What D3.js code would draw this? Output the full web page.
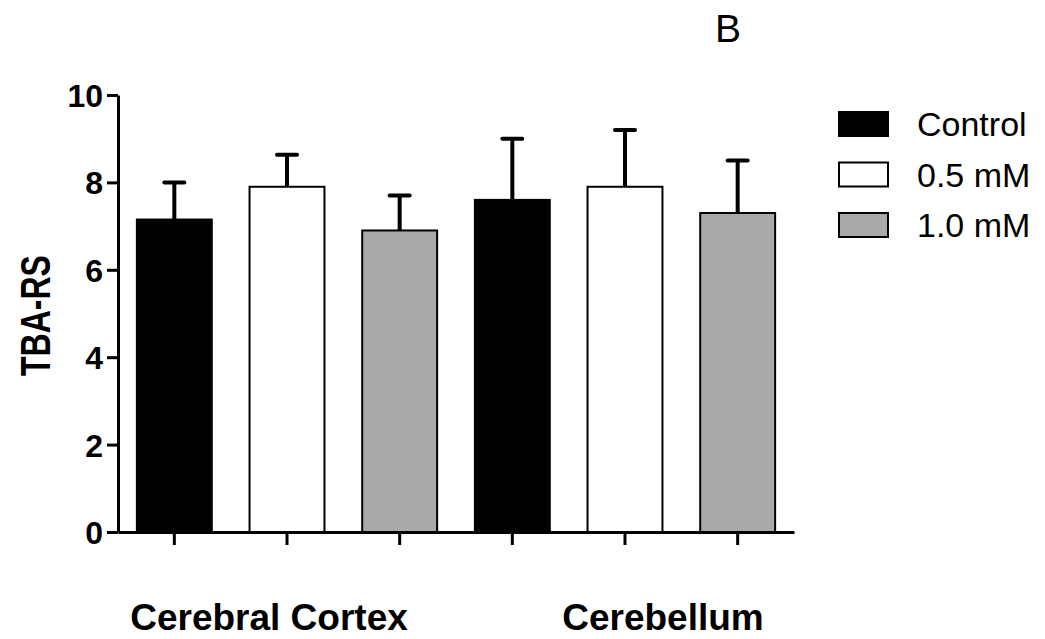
<!DOCTYPE html>
<html>
<head>
<meta charset="utf-8">
<script src="https://cdn.jsdelivr.net/npm/d3@7"></script>
<style>
  body { margin: 0; background: #fff; }
  svg { display: block; font-family: "Liberation Sans", Arial, sans-serif; }
</style>
</head>
<body>
<div class="chart"></div>
<script>
// data
const regions = ['Cerebral Cortex', 'Cerebellum'];
const groups = ['Control', '0.5 mM', '1.0 mM'];
const means = [
  [7.15, 7.9, 6.9],   // cerebral cortex
  [7.6, 7.9, 7.3]     // cerebellum
];
const sems = [
  [0.85, 0.73, 0.8],
  [1.4, 1.3, 1.2]
];
const yTicks = [0, 2, 4, 6, 8, 10];
const fills = ['#000000', '#ffffff', '#a9a9a9'];

const W = 1045, H = 639;
const margin = { left: 118, right: 251, top: 95, bottom: 107 };

const svg = d3.select('.chart').append('svg')
  .attr('width', W)
  .attr('height', H);

// flatten into bars
const bars = [];
regions.forEach((r, i) => {
  groups.forEach((g, j) => {
    bars.push({ key: r + '|' + g, region: r, group: g, gi: j, mean: means[i][j], sem: sems[i][j] });
  });
});

const x = d3.scaleBand()
  .domain(bars.map(d => d.key))
  .range([margin.left, W - margin.right])
  .paddingInner(0.335)
  .paddingOuter(0.1675);

const y = d3.scaleLinear()
  .domain([0, 10])
  .range([H - margin.bottom, margin.top]);

// bars
svg.append('g')
  .selectAll('rect')
  .data(bars)
  .join('rect')
    .attr('x', d => x(d.key))
    .attr('y', d => y(d.mean))
    .attr('width', x.bandwidth())
    .attr('height', d => y(0) - y(d.mean))
    .attr('fill', d => fills[d.gi])
    .attr('stroke', '#000')
    .attr('stroke-width', 2);

// error bars (upper only)
const err = svg.append('g')
  .attr('stroke', '#000')
  .attr('stroke-width', 4);

err.selectAll('line.v')
  .data(bars)
  .join('line')
    .attr('class', 'v')
    .attr('x1', d => x(d.key) + x.bandwidth() / 2)
    .attr('x2', d => x(d.key) + x.bandwidth() / 2)
    .attr('y1', d => y(d.mean))
    .attr('y2', d => y(d.mean + d.sem));

err.selectAll('line.cap')
  .data(bars)
  .join('line')
    .attr('class', 'cap')
    .attr('stroke-linecap', 'round')
    .attr('x1', d => x(d.key) + x.bandwidth() / 2 - 10)
    .attr('x2', d => x(d.key) + x.bandwidth() / 2 + 10)
    .attr('y1', d => y(d.mean + d.sem))
    .attr('y2', d => y(d.mean + d.sem));

// y axis
const yAxis = svg.append('g')
  .attr('transform', `translate(${margin.left},0)`)
  .call(d3.axisLeft(y).tickValues(yTicks).tickSize(11).tickSizeOuter(0).tickPadding(4));
yAxis.select('.domain').attr('stroke-width', 3);
yAxis.selectAll('.tick line').attr('stroke-width', 3);
yAxis.selectAll('.tick text')
  .attr('font-size', 32)
  .attr('font-weight', 'bold')
  .attr('font-family', '"Liberation Sans", Arial, sans-serif')
  .attr('fill', '#000')
  .attr('dy', '0.36em');

// x axis
const xAxis = svg.append('g')
  .attr('transform', `translate(0,${y(0)})`)
  .call(d3.axisBottom(x).tickSize(13).tickSizeOuter(0).tickFormat(''));
xAxis.select('.domain').attr('stroke-width', 3);
xAxis.selectAll('.tick line').attr('stroke-width', 3);

// region labels
const labelOffsets = [-18, 38];
svg.append('g')
  .selectAll('text')
  .data(regions)
  .join('text')
    .attr('x', (r, i) => x(r + '|' + groups[1]) + x.bandwidth() / 2 + labelOffsets[i])
    .attr('y', 630)
    .attr('text-anchor', 'middle')
    .attr('font-size', 37)
    .attr('font-weight', 'bold')
    .text(d => d);

// y title
svg.append('text')
  .attr('transform', `translate(50,${(y(0) + y(10)) / 2 + 2}) rotate(-90) scale(1,1.3)`)
  .attr('text-anchor', 'middle')
  .attr('font-size', 32)
  .attr('font-weight', 'bold')
  .text('TBA-RS');

// panel letter
svg.append('text')
  .attr('x', 728)
  .attr('y', 42)
  .attr('text-anchor', 'middle')
  .attr('font-size', 39)
  .text('B');

// legend
const legend = svg.append('g')
  .attr('transform', 'translate(839,112)');
const item = legend.selectAll('g')
  .data(groups)
  .join('g')
    .attr('transform', (d, i) => `translate(0,${i * 50.5})`);
item.append('rect')
  .attr('width', 49)
  .attr('height', 24)
  .attr('fill', (d, i) => fills[i])
  .attr('stroke', '#000')
  .attr('stroke-width', 2);
item.append('text')
  .attr('x', 78)
  .attr('y', 24)
  .attr('font-size', 34)
  .text(d => d);
</script>
</body>
</html>
